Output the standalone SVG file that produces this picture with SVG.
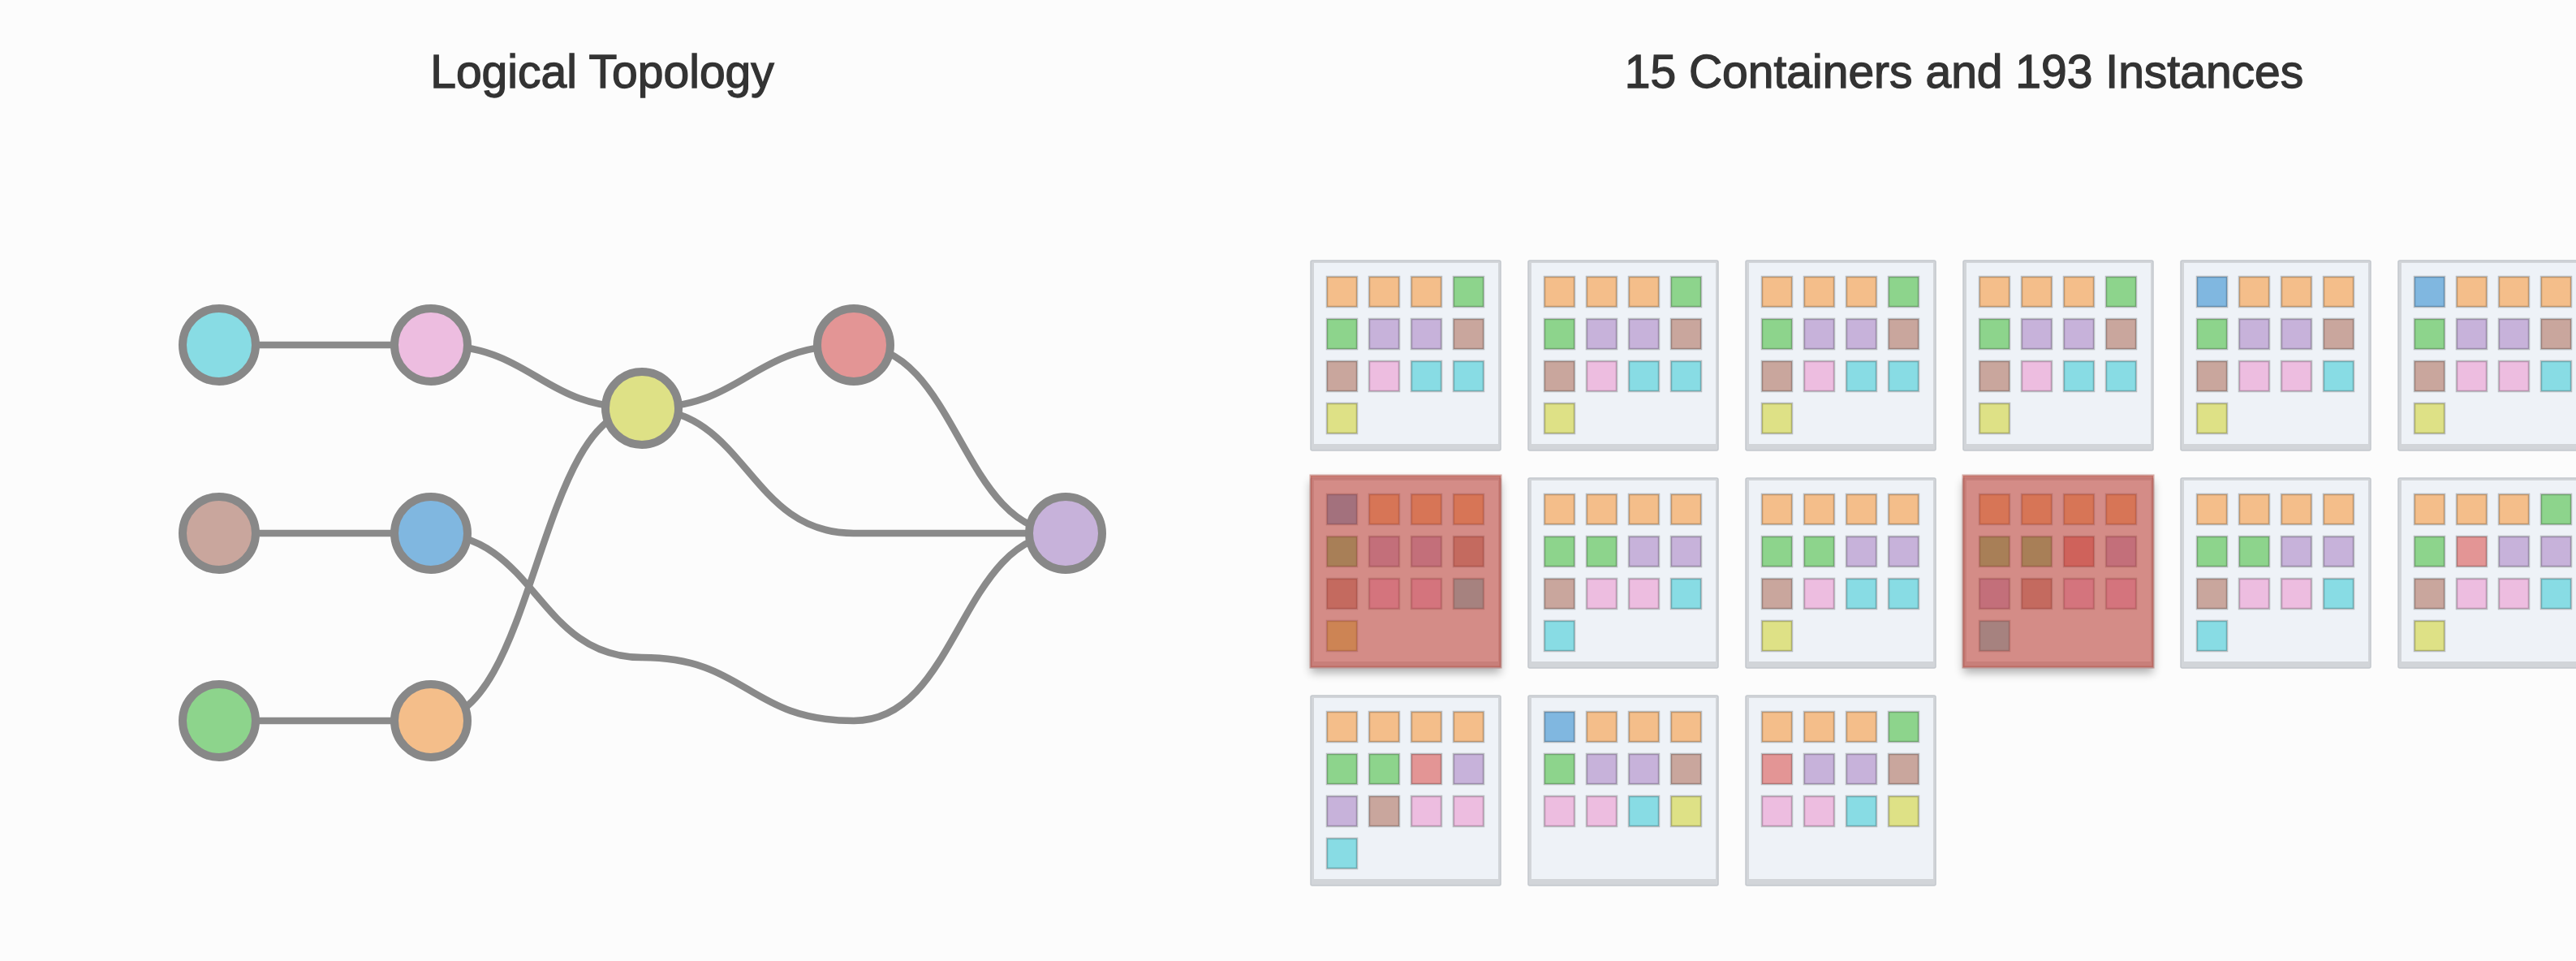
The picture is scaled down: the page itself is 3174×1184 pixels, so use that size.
<svg xmlns="http://www.w3.org/2000/svg" xmlns:xlink="http://www.w3.org/1999/xlink" width="3174" height="1184" viewBox="0 0 3174 1184">
  <style>
    .title { font-family: "Liberation Sans", Arial, sans-serif; font-size: 57px; fill: #333333; stroke: #333333; stroke-width: 1.3; text-anchor: middle; }
    .edge { fill: none; stroke: #8a8a8a; stroke-width: 8.5; stroke-linecap: round; }
    .node { stroke: #888888; stroke-width: 10; }
    .frame { fill: #d2d5d9; stroke: #c4c8cd; stroke-width: 1.5; }
    .frame-in { fill: #eef2f7; }
    .sq rect { stroke: rgba(0,0,0,0.22); stroke-width: 2.5; }
    .o { fill: #f4be8a; }
    .g { fill: #8dd48c; }
    .p { fill: #c7b2da; }
    .b { fill: #c9a69d; }
    .k { fill: #edbde0; }
    .c { fill: #88dce4; }
    .y { fill: #dee186; }
    .l { fill: #80b7e0; }
    .r { fill: #e39595; }
    .hot { fill: #c0392b; fill-opacity: 0.55; stroke: #b0584d; stroke-opacity: 0.5; stroke-width: 3; }
    .hot-shadow { fill: #000; opacity: 0.3; }
  </style>
  <defs>
    <filter id="soft" x="-20%" y="-20%" width="140%" height="140%">
      <feGaussianBlur stdDeviation="6"/>
    </filter>
    <!-- empty container frame -->
    <g id="box">
      <rect class="frame" x="0" y="0" width="234" height="234" rx="2"/>
      <rect class="frame-in" x="4" y="3" width="227" height="223"/>
    </g>
  </defs>

  <rect width="3174" height="1184" fill="#fcfcfc"/>

  <text class="title" x="742" y="108">Logical Topology</text>
  <text class="title" x="2420" y="108">15 Containers and 193 Instances</text>

  <!-- connectors of the logical topology -->
  <g id="edges">
    <path class="edge" d="M270,425 H531"/>
    <path class="edge" d="M270,657 H531"/>
    <path class="edge" d="M270,888 H531"/>
    <path class="edge" d="M531,425 C661,425 661,503 791,503"/>
    <path class="edge" d="M791,503 C921,503 921,425 1052,425"/>
    <path class="edge" d="M791,503 C921,503 921,657 1052,657 H1313"/>
    <path class="edge" d="M1052,425 C1182,425 1182,657 1313,657"/>
    <path class="edge" d="M531,657 C661,657 661,810 791,810 C921,810 921,888 1052,888 C1182,888 1182,657 1313,657"/>
    <path class="edge" d="M531,888 C661,888 661,503 791,503"/>
  </g>

  <!-- topology nodes -->
  <g id="node-cyan"><circle class="node c" cx="270" cy="425" r="45"/></g>
  <g id="node-pink"><circle class="node k" cx="531" cy="425" r="45"/></g>
  <g id="node-yellow"><circle class="node y" cx="791" cy="503" r="45"/></g>
  <g id="node-red"><circle class="node r" cx="1052" cy="425" r="45"/></g>
  <g id="node-brown"><circle class="node b" cx="270" cy="657" r="45"/></g>
  <g id="node-blue"><circle class="node l" cx="531" cy="657" r="45"/></g>
  <g id="node-purple"><circle class="node p" cx="1313" cy="657" r="45"/></g>
  <g id="node-green"><circle class="node g" cx="270" cy="888" r="45"/></g>
  <g id="node-orange"><circle class="node o" cx="531" cy="888" r="45"/></g>

  <!-- containers: 4-wide grid of instances, 37px squares on a 52px pitch -->
  <g id="container-1" transform="translate(1615,321)">
    <use href="#box"/>
    <g class="sq">
      <rect class="o" x="20" y="20" width="37" height="37"/><rect class="o" x="72" y="20" width="37" height="37"/><rect class="o" x="124" y="20" width="37" height="37"/><rect class="g" x="176" y="20" width="37" height="37"/>
      <rect class="g" x="20" y="72" width="37" height="37"/><rect class="p" x="72" y="72" width="37" height="37"/><rect class="p" x="124" y="72" width="37" height="37"/><rect class="b" x="176" y="72" width="37" height="37"/>
      <rect class="b" x="20" y="124" width="37" height="37"/><rect class="k" x="72" y="124" width="37" height="37"/><rect class="c" x="124" y="124" width="37" height="37"/><rect class="c" x="176" y="124" width="37" height="37"/>
      <rect class="y" x="20" y="176" width="37" height="37"/>
    </g>
  </g>
  <g id="container-2" transform="translate(1883,321)">
    <use href="#box"/>
    <g class="sq">
      <rect class="o" x="20" y="20" width="37" height="37"/><rect class="o" x="72" y="20" width="37" height="37"/><rect class="o" x="124" y="20" width="37" height="37"/><rect class="g" x="176" y="20" width="37" height="37"/>
      <rect class="g" x="20" y="72" width="37" height="37"/><rect class="p" x="72" y="72" width="37" height="37"/><rect class="p" x="124" y="72" width="37" height="37"/><rect class="b" x="176" y="72" width="37" height="37"/>
      <rect class="b" x="20" y="124" width="37" height="37"/><rect class="k" x="72" y="124" width="37" height="37"/><rect class="c" x="124" y="124" width="37" height="37"/><rect class="c" x="176" y="124" width="37" height="37"/>
      <rect class="y" x="20" y="176" width="37" height="37"/>
    </g>
  </g>
  <g id="container-3" transform="translate(2151,321)">
    <use href="#box"/>
    <g class="sq">
      <rect class="o" x="20" y="20" width="37" height="37"/><rect class="o" x="72" y="20" width="37" height="37"/><rect class="o" x="124" y="20" width="37" height="37"/><rect class="g" x="176" y="20" width="37" height="37"/>
      <rect class="g" x="20" y="72" width="37" height="37"/><rect class="p" x="72" y="72" width="37" height="37"/><rect class="p" x="124" y="72" width="37" height="37"/><rect class="b" x="176" y="72" width="37" height="37"/>
      <rect class="b" x="20" y="124" width="37" height="37"/><rect class="k" x="72" y="124" width="37" height="37"/><rect class="c" x="124" y="124" width="37" height="37"/><rect class="c" x="176" y="124" width="37" height="37"/>
      <rect class="y" x="20" y="176" width="37" height="37"/>
    </g>
  </g>
  <g id="container-4" transform="translate(2419,321)">
    <use href="#box"/>
    <g class="sq">
      <rect class="o" x="20" y="20" width="37" height="37"/><rect class="o" x="72" y="20" width="37" height="37"/><rect class="o" x="124" y="20" width="37" height="37"/><rect class="g" x="176" y="20" width="37" height="37"/>
      <rect class="g" x="20" y="72" width="37" height="37"/><rect class="p" x="72" y="72" width="37" height="37"/><rect class="p" x="124" y="72" width="37" height="37"/><rect class="b" x="176" y="72" width="37" height="37"/>
      <rect class="b" x="20" y="124" width="37" height="37"/><rect class="k" x="72" y="124" width="37" height="37"/><rect class="c" x="124" y="124" width="37" height="37"/><rect class="c" x="176" y="124" width="37" height="37"/>
      <rect class="y" x="20" y="176" width="37" height="37"/>
    </g>
  </g>
  <g id="container-5" transform="translate(2687,321)">
    <use href="#box"/>
    <g class="sq">
      <rect class="l" x="20" y="20" width="37" height="37"/><rect class="o" x="72" y="20" width="37" height="37"/><rect class="o" x="124" y="20" width="37" height="37"/><rect class="o" x="176" y="20" width="37" height="37"/>
      <rect class="g" x="20" y="72" width="37" height="37"/><rect class="p" x="72" y="72" width="37" height="37"/><rect class="p" x="124" y="72" width="37" height="37"/><rect class="b" x="176" y="72" width="37" height="37"/>
      <rect class="b" x="20" y="124" width="37" height="37"/><rect class="k" x="72" y="124" width="37" height="37"/><rect class="k" x="124" y="124" width="37" height="37"/><rect class="c" x="176" y="124" width="37" height="37"/>
      <rect class="y" x="20" y="176" width="37" height="37"/>
    </g>
  </g>
  <g id="container-6" transform="translate(2955,321)">
    <use href="#box"/>
    <g class="sq">
      <rect class="l" x="20" y="20" width="37" height="37"/><rect class="o" x="72" y="20" width="37" height="37"/><rect class="o" x="124" y="20" width="37" height="37"/><rect class="o" x="176" y="20" width="37" height="37"/>
      <rect class="g" x="20" y="72" width="37" height="37"/><rect class="p" x="72" y="72" width="37" height="37"/><rect class="p" x="124" y="72" width="37" height="37"/><rect class="b" x="176" y="72" width="37" height="37"/>
      <rect class="b" x="20" y="124" width="37" height="37"/><rect class="k" x="72" y="124" width="37" height="37"/><rect class="k" x="124" y="124" width="37" height="37"/><rect class="c" x="176" y="124" width="37" height="37"/>
      <rect class="y" x="20" y="176" width="37" height="37"/>
    </g>
  </g>

  <!-- second row -->
  <g id="container-7" transform="translate(1615,589)">
    <rect class="hot-shadow" x="0" y="4" width="234" height="236" filter="url(#soft)"/>
    <use href="#box"/>
    <g class="sq">
      <rect class="l" x="20" y="20" width="37" height="37"/><rect class="o" x="72" y="20" width="37" height="37"/><rect class="o" x="124" y="20" width="37" height="37"/><rect class="o" x="176" y="20" width="37" height="37"/>
      <rect class="g" x="20" y="72" width="37" height="37"/><rect class="p" x="72" y="72" width="37" height="37"/><rect class="p" x="124" y="72" width="37" height="37"/><rect class="b" x="176" y="72" width="37" height="37"/>
      <rect class="b" x="20" y="124" width="37" height="37"/><rect class="k" x="72" y="124" width="37" height="37"/><rect class="k" x="124" y="124" width="37" height="37"/><rect class="c" x="176" y="124" width="37" height="37"/>
      <rect class="y" x="20" y="176" width="37" height="37"/>
    </g>
    <rect class="hot" x="0" y="-3" width="234" height="236"/>
  </g>
  <g id="container-8" transform="translate(1883,589)">
    <use href="#box"/>
    <g class="sq">
      <rect class="o" x="20" y="20" width="37" height="37"/><rect class="o" x="72" y="20" width="37" height="37"/><rect class="o" x="124" y="20" width="37" height="37"/><rect class="o" x="176" y="20" width="37" height="37"/>
      <rect class="g" x="20" y="72" width="37" height="37"/><rect class="g" x="72" y="72" width="37" height="37"/><rect class="p" x="124" y="72" width="37" height="37"/><rect class="p" x="176" y="72" width="37" height="37"/>
      <rect class="b" x="20" y="124" width="37" height="37"/><rect class="k" x="72" y="124" width="37" height="37"/><rect class="k" x="124" y="124" width="37" height="37"/><rect class="c" x="176" y="124" width="37" height="37"/>
      <rect class="c" x="20" y="176" width="37" height="37"/>
    </g>
  </g>
  <g id="container-9" transform="translate(2151,589)">
    <use href="#box"/>
    <g class="sq">
      <rect class="o" x="20" y="20" width="37" height="37"/><rect class="o" x="72" y="20" width="37" height="37"/><rect class="o" x="124" y="20" width="37" height="37"/><rect class="o" x="176" y="20" width="37" height="37"/>
      <rect class="g" x="20" y="72" width="37" height="37"/><rect class="g" x="72" y="72" width="37" height="37"/><rect class="p" x="124" y="72" width="37" height="37"/><rect class="p" x="176" y="72" width="37" height="37"/>
      <rect class="b" x="20" y="124" width="37" height="37"/><rect class="k" x="72" y="124" width="37" height="37"/><rect class="c" x="124" y="124" width="37" height="37"/><rect class="c" x="176" y="124" width="37" height="37"/>
      <rect class="y" x="20" y="176" width="37" height="37"/>
    </g>
  </g>
  <g id="container-10" transform="translate(2419,589)">
    <rect class="hot-shadow" x="0" y="4" width="234" height="236" filter="url(#soft)"/>
    <use href="#box"/>
    <g class="sq">
      <rect class="o" x="20" y="20" width="37" height="37"/><rect class="o" x="72" y="20" width="37" height="37"/><rect class="o" x="124" y="20" width="37" height="37"/><rect class="o" x="176" y="20" width="37" height="37"/>
      <rect class="g" x="20" y="72" width="37" height="37"/><rect class="g" x="72" y="72" width="37" height="37"/><rect class="r" x="124" y="72" width="37" height="37"/><rect class="p" x="176" y="72" width="37" height="37"/>
      <rect class="p" x="20" y="124" width="37" height="37"/><rect class="b" x="72" y="124" width="37" height="37"/><rect class="k" x="124" y="124" width="37" height="37"/><rect class="k" x="176" y="124" width="37" height="37"/>
      <rect class="c" x="20" y="176" width="37" height="37"/>
    </g>
    <rect class="hot" x="0" y="-3" width="234" height="236"/>
  </g>
  <g id="container-11" transform="translate(2687,589)">
    <use href="#box"/>
    <g class="sq">
      <rect class="o" x="20" y="20" width="37" height="37"/><rect class="o" x="72" y="20" width="37" height="37"/><rect class="o" x="124" y="20" width="37" height="37"/><rect class="o" x="176" y="20" width="37" height="37"/>
      <rect class="g" x="20" y="72" width="37" height="37"/><rect class="g" x="72" y="72" width="37" height="37"/><rect class="p" x="124" y="72" width="37" height="37"/><rect class="p" x="176" y="72" width="37" height="37"/>
      <rect class="b" x="20" y="124" width="37" height="37"/><rect class="k" x="72" y="124" width="37" height="37"/><rect class="k" x="124" y="124" width="37" height="37"/><rect class="c" x="176" y="124" width="37" height="37"/>
      <rect class="c" x="20" y="176" width="37" height="37"/>
    </g>
  </g>
  <g id="container-12" transform="translate(2955,589)">
    <use href="#box"/>
    <g class="sq">
      <rect class="o" x="20" y="20" width="37" height="37"/><rect class="o" x="72" y="20" width="37" height="37"/><rect class="o" x="124" y="20" width="37" height="37"/><rect class="g" x="176" y="20" width="37" height="37"/>
      <rect class="g" x="20" y="72" width="37" height="37"/><rect class="r" x="72" y="72" width="37" height="37"/><rect class="p" x="124" y="72" width="37" height="37"/><rect class="p" x="176" y="72" width="37" height="37"/>
      <rect class="b" x="20" y="124" width="37" height="37"/><rect class="k" x="72" y="124" width="37" height="37"/><rect class="k" x="124" y="124" width="37" height="37"/><rect class="c" x="176" y="124" width="37" height="37"/>
      <rect class="y" x="20" y="176" width="37" height="37"/>
    </g>
  </g>

  <!-- third row -->
  <g id="container-13" transform="translate(1615,857)">
    <use href="#box"/>
    <g class="sq">
      <rect class="o" x="20" y="20" width="37" height="37"/><rect class="o" x="72" y="20" width="37" height="37"/><rect class="o" x="124" y="20" width="37" height="37"/><rect class="o" x="176" y="20" width="37" height="37"/>
      <rect class="g" x="20" y="72" width="37" height="37"/><rect class="g" x="72" y="72" width="37" height="37"/><rect class="r" x="124" y="72" width="37" height="37"/><rect class="p" x="176" y="72" width="37" height="37"/>
      <rect class="p" x="20" y="124" width="37" height="37"/><rect class="b" x="72" y="124" width="37" height="37"/><rect class="k" x="124" y="124" width="37" height="37"/><rect class="k" x="176" y="124" width="37" height="37"/>
      <rect class="c" x="20" y="176" width="37" height="37"/>
    </g>
  </g>
  <g id="container-14" transform="translate(1883,857)">
    <use href="#box"/>
    <g class="sq">
      <rect class="l" x="20" y="20" width="37" height="37"/><rect class="o" x="72" y="20" width="37" height="37"/><rect class="o" x="124" y="20" width="37" height="37"/><rect class="o" x="176" y="20" width="37" height="37"/>
      <rect class="g" x="20" y="72" width="37" height="37"/><rect class="p" x="72" y="72" width="37" height="37"/><rect class="p" x="124" y="72" width="37" height="37"/><rect class="b" x="176" y="72" width="37" height="37"/>
      <rect class="k" x="20" y="124" width="37" height="37"/><rect class="k" x="72" y="124" width="37" height="37"/><rect class="c" x="124" y="124" width="37" height="37"/><rect class="y" x="176" y="124" width="37" height="37"/>
    </g>
  </g>
  <g id="container-15" transform="translate(2151,857)">
    <use href="#box"/>
    <g class="sq">
      <rect class="o" x="20" y="20" width="37" height="37"/><rect class="o" x="72" y="20" width="37" height="37"/><rect class="o" x="124" y="20" width="37" height="37"/><rect class="g" x="176" y="20" width="37" height="37"/>
      <rect class="r" x="20" y="72" width="37" height="37"/><rect class="p" x="72" y="72" width="37" height="37"/><rect class="p" x="124" y="72" width="37" height="37"/><rect class="b" x="176" y="72" width="37" height="37"/>
      <rect class="k" x="20" y="124" width="37" height="37"/><rect class="k" x="72" y="124" width="37" height="37"/><rect class="c" x="124" y="124" width="37" height="37"/><rect class="y" x="176" y="124" width="37" height="37"/>
    </g>
  </g>
</svg>
